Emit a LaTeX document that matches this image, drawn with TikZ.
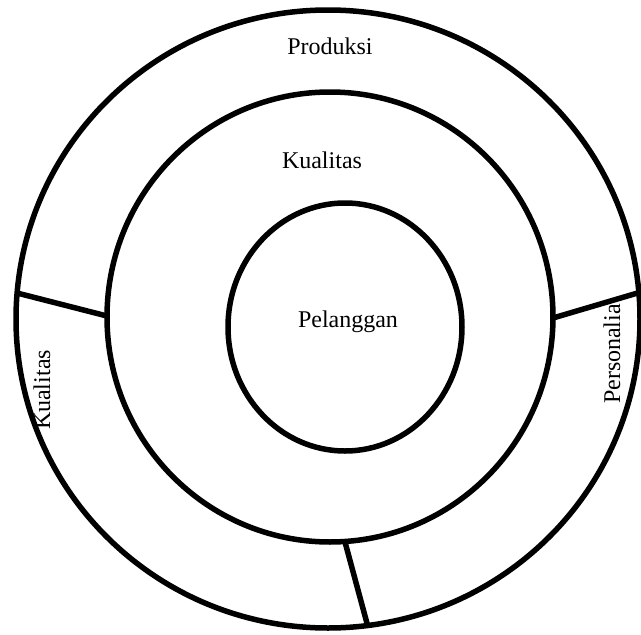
\documentclass[tikz,border=0pt]{standalone}
\usepackage{fontspec}
\setmainfont{Liberation Serif}
\begin{document}
\begin{tikzpicture}[x=1pt,y=-1pt,
  ring/.style={line width=5.5pt},
  divider/.style={line width=5.5pt},
  lbl/.style={inner sep=0pt, font=\fontsize{24}{28}\selectfont}]
\useasboundingbox (0,0) rectangle (641,635);
\clip (0,0) rectangle (641,635);
% the three rings
\draw[ring] (328,319) ellipse [x radius=312pt, y radius=309pt];
\draw[ring] (330,317) ellipse [x radius=223pt, y radius=225pt];
\draw[ring] (345,327) ellipse [x radius=117pt, y radius=124pt];
% end points of the dividers in the outer ring
\coordinate (lo) at (17,293);
\coordinate (li) at (107,316);
\coordinate (ro) at (641,292);
\coordinate (ri) at (553,318);
\coordinate (bo) at (368,627);
\coordinate (bi) at (345,542);
\draw[divider] (lo) -- (li);
\draw[divider] (ri) -- (ro);
\draw[divider] (bi) -- (bo);
% labels
\node[lbl] (produksi) at (330,46) {Produksi};
\node[lbl] (kualitas) at (322,160) {Kualitas};
\node[lbl] (pelanggan) at (348,322) {Pelanggan};
\node[lbl, rotate=90] (kualitas2) at (42,390) {Kualitas};
\node[lbl, rotate=90] (personalia) at (612,354) {Personalia};
\end{tikzpicture}
\end{document}
